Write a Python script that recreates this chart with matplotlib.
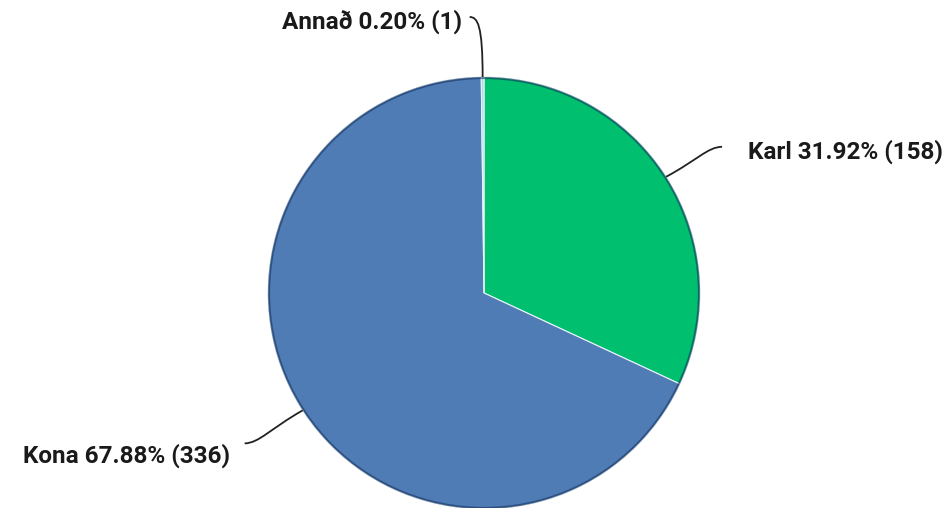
import numpy as np
import matplotlib.pyplot as plt
from matplotlib.path import Path
from matplotlib.patches import PathPatch, Circle

# gogn
labels = ["Karl", "Kona", "Annað"]
counts = [158, 336, 1]
colors = ["#00bf6f", "#507cb6", "#a9dcec"]

W, H = 951, 508
cx, cy, r = 484, H - 293, 216

fig = plt.figure(figsize=(W / 100, H / 100), dpi=100)
ax = fig.add_axes([0, 0, 1, 1])

wedges, _ = ax.pie(counts, colors=colors, startangle=90, counterclock=False,
                   center=(cx, cy), radius=r, frame=True,
                   wedgeprops=dict(edgecolor="#e8f4f8", linewidth=0.8))
ax.set_xlim(0, W)
ax.set_ylim(0, H)
ax.axis('off')

# dokkur jadar
ax.add_patch(Circle((cx, cy), r - 1, fill=False, edgecolor="#0d2a55",
                    linewidth=1.6, alpha=0.55, zorder=3))

total = sum(counts)
# (dx, dy) fra jadri ad enda linu, stefna, (textx, texty)
offsets = {"Karl": (56, 30, "left", 26, -5),
           "Kona": (-58, -33, "right", -15, -12),
           "Annað": (-13, 60, "right", -8, -5)}

for w, lab, n in zip(wedges, labels, counts):
    ang = np.deg2rad((w.theta1 + w.theta2) / 2)
    x0, y0 = cx + r * np.cos(ang), cy + r * np.sin(ang)
    dx, dy, ha, ox, oy = offsets[lab]
    x3, y3 = x0 + dx, y0 + dy
    if lab == "Annað":
        p1 = (x0, y0 + 52)
        p2 = (x3 + 8, y3)
    else:
        p1 = (x0 + 0.55 * dx, y0 + 0.55 * dy)
        sgn = 1 if dx > 0 else -1
        p2 = (x3 - sgn * 14, y3)
    path = Path([(x0, y0), p1, p2, (x3, y3)],
                [Path.MOVETO, Path.CURVE4, Path.CURVE4, Path.CURVE4])
    ax.add_patch(PathPatch(path, fill=False, edgecolor="#222222", lw=1.3,
                           zorder=4))
    txt = f"{lab} {100 * n / total:.2f}% ({n})"
    ax.text(x3 + ox, y3 + oy, txt, ha=ha, va="center", fontsize=17.5,
            fontweight="bold", family="Roboto", color="#1a1a1a")

fig.savefig("out.png", dpi=100)
